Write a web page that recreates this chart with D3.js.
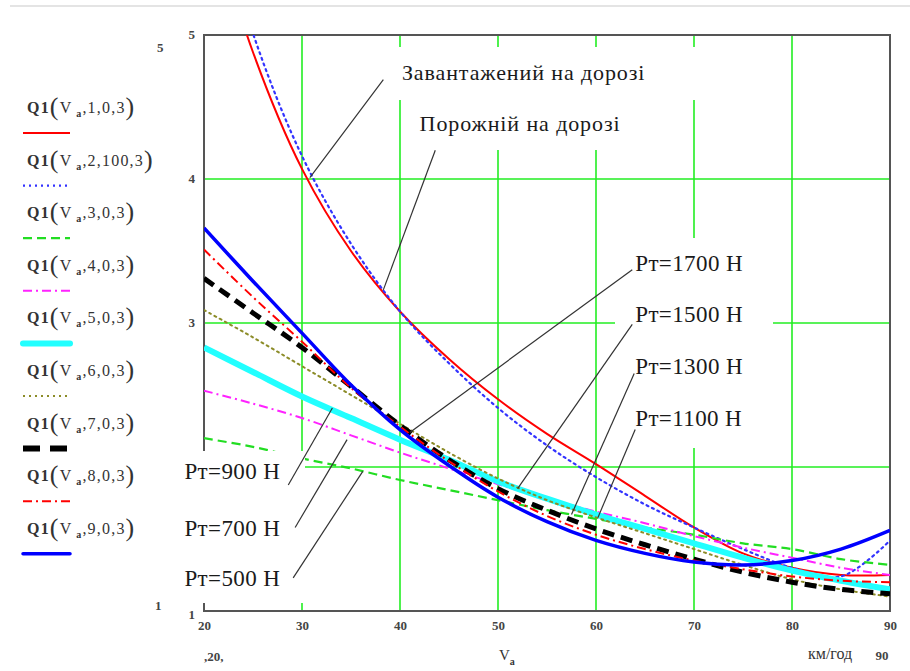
<!DOCTYPE html>
<html>
<head>
<meta charset="utf-8">
<script src="https://d3js.org/d3.v7.min.js"></script>
<style>
    body {
        margin: 0;
        background: #ffffff;
    }
</style>
<title>Q1(Va)</title>
</head>
<body>
<svg id="chart" width="910" height="671"></svg>
<script>
    // speed, km/h
    var speed = [20, 25, 30, 35, 40, 45, 50, 55, 60, 65, 70, 75, 80, 85, 90];

    // Q1 curves
    var loadedRoad = [5.98, 4.88, 4.07, 3.50, 3.08, 2.75, 2.47, 2.23, 2.02, 1.80, 1.58, 1.40, 1.30, 1.25, 1.25];
    var emptyRoad  = [6.20, 5.01, 4.16, 3.55, 3.08, 2.72, 2.41, 2.15, 1.93, 1.74, 1.58, 1.43, 1.30, 1.24, 1.49];
    var pt500  = [2.20, 2.14, 2.06, 1.99, 1.91, 1.84, 1.77, 1.70, 1.64, 1.58, 1.53, 1.47, 1.43, 1.36, 1.32];
    var pt700  = [2.53, 2.44, 2.34, 2.22, 2.10, 1.99, 1.88, 1.78, 1.69, 1.61, 1.52, 1.44, 1.37, 1.30, 1.25];
    var pt900  = [2.83, 2.66, 2.49, 2.34, 2.19, 2.05, 1.90, 1.78, 1.67, 1.57, 1.47, 1.37, 1.28, 1.21, 1.15];
    var pt1100 = [3.09, 2.90, 2.70, 2.50, 2.30, 2.10, 1.92, 1.77, 1.65, 1.54, 1.43, 1.32, 1.22, 1.15, 1.10];
    var pt1300 = [3.31, 3.07, 2.83, 2.56, 2.29, 2.05, 1.85, 1.70, 1.57, 1.46, 1.36, 1.27, 1.20, 1.15, 1.12];
    var pt1500 = [3.51, 3.18, 2.87, 2.55, 2.28, 2.04, 1.83, 1.66, 1.53, 1.43, 1.35, 1.29, 1.24, 1.21, 1.20];
    var pt1700 = [3.66, 3.29, 2.93, 2.57, 2.26, 2.01, 1.79, 1.62, 1.49, 1.40, 1.34, 1.32, 1.35, 1.43, 1.56];

    var xTicks = [20, 30, 40, 50, 60, 70, 80, 90];
    var yTicks = [5, 4, 3, 1];
    var yGrid = [2, 3, 4];
    var legendArgs = ["1,0,3", "2,100,3", "3,0,3", "4,0,3", "5,0,3", "6,0,3", "7,0,3", "8,0,3", "9,0,3"];

    // annotations: text, text position (V, Q), leader from (V, Q) to (V, Q)
    var noteText = ["Завантажений на дорозі", "Порожній на дорозі",
        "Рт=1700 Н", "Рт=1500 Н", "Рт=1300 Н", "Рт=1100 Н",
        "Рт=900 Н", "Рт=700 Н", "Рт=500 Н"];
    var notePos = [[40.2, 4.74], [42.0, 4.39],
        [64.0, 3.42], [64.0, 3.06], [64.0, 2.70], [64.0, 2.34],
        [18.0, 1.97], [18.0, 1.58], [18.0, 1.23]];
    var leaderFrom = [[38.3, 4.69], [43.6, 4.20],
        [63.7, 3.37], [63.7, 2.99], [63.9, 2.65], [64.0, 2.26],
        [28.6, 1.875], [29.3, 1.58], [29.1, 1.23]];
    var leaderTo = [[30.8, 4.01], [38.3, 3.23],
        [41.0, 2.24], [52.0, 1.85], [57.5, 1.67], [60.2, 1.65],
        [33.1, 2.41], [34.6, 2.19], [36.2, 1.97]];

    var series = [loadedRoad, emptyRoad, pt500, pt700, pt900, pt1100, pt1300, pt1500, pt1700];
    var colors = ["#ff0000", "#3333ff", "#22dd22", "#ff22ff", "#22ffff", "#8c8c28", "#000000", "#ff0000", "#0000ff"];
    var widths = [2, 2.2, 2.2, 2, 6, 2, 5, 2, 3.5];
    var dashes = [null, "2,4", "9,5", "9,4,2,4", null, "2,4", "12,7", "9,4,2,4", null];

    var serif = "'Liberation Serif', 'DejaVu Serif', 'Times New Roman', serif";
    var canvas = d3.select("#chart");
    var plotLeft = 204, plotRight = 890, plotTop = 35, plotBottom = 611;

    var xScale = d3.scaleLinear().domain([20, 90]).range([plotLeft, plotRight]);
    var yScale = d3.scaleLinear().domain([1, 5]).range([plotBottom, plotTop]);

    // thin grey rule at the top of the page
    canvas.append("line")
        .attr("x1", 10).attr("x2", 910)
        .attr("y1", 6).attr("y2", 6)
        .style("stroke", "#e4e4e4")
        .style("stroke-width", 2);

    // grid
    var grid = canvas.append("g");
    grid.selectAll(".vgrid")
        .data(xTicks.slice(1, -1))
        .enter()
        .append("line")
        .attr("x1", function (d) { return xScale(d); })
        .attr("x2", function (d) { return xScale(d); })
        .attr("y1", plotTop).attr("y2", plotBottom)
        .style("stroke", "#22ee22")
        .style("stroke-width", 1.6);
    grid.selectAll(".hgrid")
        .data(yGrid)
        .enter()
        .append("line")
        .attr("y1", function (d) { return yScale(d); })
        .attr("y2", function (d) { return yScale(d); })
        .attr("x1", plotLeft).attr("x2", plotRight)
        .style("stroke", "#22ee22")
        .style("stroke-width", 1.6);

    // frame
    canvas.append("rect")
        .attr("x", plotLeft).attr("y", plotTop)
        .attr("width", plotRight - plotLeft).attr("height", plotBottom - plotTop)
        .style("fill", "none")
        .style("stroke", "#555555")
        .style("stroke-width", 2);

    // curves
    canvas.append("clipPath").attr("id", "plotClip")
        .append("rect")
        .attr("x", plotLeft).attr("y", plotTop)
        .attr("width", plotRight - plotLeft).attr("height", plotBottom - plotTop);

    var line = d3.line()
        .x(function (d, i) { return xScale(speed[i]); })
        .y(function (d) { return yScale(d); })
        .curve(d3.curveCatmullRom);

    var curves = canvas.append("g").attr("clip-path", "url(#plotClip)");
    series.forEach(function (s, i) {
        curves.append("path")
            .datum(s)
            .attr("d", line)
            .style("fill", "none")
            .style("stroke", colors[i])
            .style("stroke-width", widths[i])
            .style("stroke-dasharray", dashes[i])
            .style("stroke-linecap", dashes[i] === "2,4" ? "round" : "butt");
    });

    // white backgrounds of the text regions
    var boxes = [[395, 47, 305, 53], [405, 100, 230, 50], [615, 238, 158, 210], [178, 451, 127, 152]];
    canvas.selectAll(".box")
        .data(boxes)
        .enter()
        .append("rect")
        .attr("x", function (d) { return d[0]; })
        .attr("y", function (d) { return d[1]; })
        .attr("width", function (d) { return d[2]; })
        .attr("height", function (d) { return d[3]; })
        .style("fill", "#ffffff");

    // annotations
    noteText.forEach(function (t, i) {
        canvas.append("text")
            .attr("x", xScale(notePos[i][0]))
            .attr("y", yScale(notePos[i][1]))
            .attr("dy", "0.35em")
            .style("font-family", serif)
            .style("font-size", i < 2 ? "22px" : "23px")
            .style("letter-spacing", i < 2 ? "0.9px" : "0.4px")
            .style("fill", "#1a1a1a")
            .text(t);
        canvas.append("line")
            .attr("x1", xScale(leaderFrom[i][0]))
            .attr("y1", yScale(leaderFrom[i][1]))
            .attr("x2", xScale(leaderTo[i][0]))
            .attr("y2", yScale(leaderTo[i][1]))
            .style("stroke", "#333333")
            .style("stroke-width", 1.2);
    });

    // axis labels
    var xAxis = d3.axisBottom(xScale).tickValues(xTicks).tickSize(0).tickPadding(10)
        .tickFormat(function (d) { return d; });
    canvas.append("g")
        .attr("transform", "translate(0," + plotBottom + ")")
        .call(xAxis);
    var yAxis = d3.axisLeft(yScale).tickValues(yTicks).tickSize(0).tickPadding(9)
        .tickFormat(function (d) { return d; });
    var gy = canvas.append("g")
        .attr("transform", "translate(" + plotLeft + ",0)")
        .call(yAxis);
    canvas.selectAll(".domain").remove();
    canvas.selectAll(".tick text")
        .style("font-family", serif)
        .style("font-size", "13px")
        .style("font-weight", "bold")
        .style("fill", "#444444");
    gy.selectAll(".tick text")
        .attr("dy", function (d) { return d === 1 ? "0.55em" : "0.3em"; });

    // y limits on the far left
    canvas.append("text").attr("x", 157).attr("y", 52)
        .style("font-family", serif).style("font-weight", "bold")
        .style("font-size", "13px").style("fill", "#444").text(yScale.domain()[1]);
    canvas.append("text").attr("x", 155).attr("y", 610)
        .style("font-family", serif).style("font-weight", "bold")
        .style("font-size", "13px").style("fill", "#444").text(yScale.domain()[0]);

    // x limits and label under the axis
    canvas.append("text").attr("x", 204).attr("y", 661)
        .style("font-family", serif).style("font-weight", "bold")
        .style("font-size", "13px").style("fill", "#444").text("," + xScale.domain()[0] + ",");
    canvas.append("text").attr("x", 882).attr("y", 660).attr("text-anchor", "middle")
        .style("font-family", serif).style("font-weight", "bold")
        .style("font-size", "13px").style("fill", "#444").text(xScale.domain()[1]);
    var va = canvas.append("text").attr("x", 499).attr("y", 660)
        .style("font-family", serif)
        .style("font-size", "15px").style("fill", "#333");
    va.append("tspan").text("V");
    va.append("tspan").attr("dy", 5).style("font-size", "10px").style("font-weight", "bold").text("a");
    canvas.append("text").attr("x", 808).attr("y", 659)
        .style("font-family", serif)
        .style("font-size", "16px").style("fill", "#333").text("км/год");

    // legend
    legendArgs.forEach(function (a, i) {
        var ly = 133 + i * 52.6;
        var t = canvas.append("text")
            .attr("x", 27).attr("y", ly - 20)
            .style("font-family", serif)
            .style("font-size", "16px")
            .style("fill", "#333")
            .style("letter-spacing", "1.2px");
        t.append("tspan").style("font-weight", "bold").text("Q1");
        t.append("tspan").attr("dy", 2).style("font-size", "26px").text("(");
        t.append("tspan").attr("dy", -2).text("V");
        t.append("tspan").attr("dy", 4).style("font-size", "10px").style("font-weight", "bold").text(" a");
        t.append("tspan").attr("dy", -4).text("," + a);
        t.append("tspan").attr("dy", 2).style("font-size", "26px").text(")");

        canvas.append("line")
            .attr("x1", 23).attr("x2", 70)
            .attr("y1", ly).attr("y2", ly)
            .style("stroke", colors[i])
            .style("stroke-width", i === 4 || i === 6 ? 6 : widths[i])
            .style("stroke-dasharray", i === 6 ? "17,10" : dashes[i])
            .style("stroke-linecap", i === 4 || i === 8 ? "round" : "butt");
    });
</script>
</body>
</html>
